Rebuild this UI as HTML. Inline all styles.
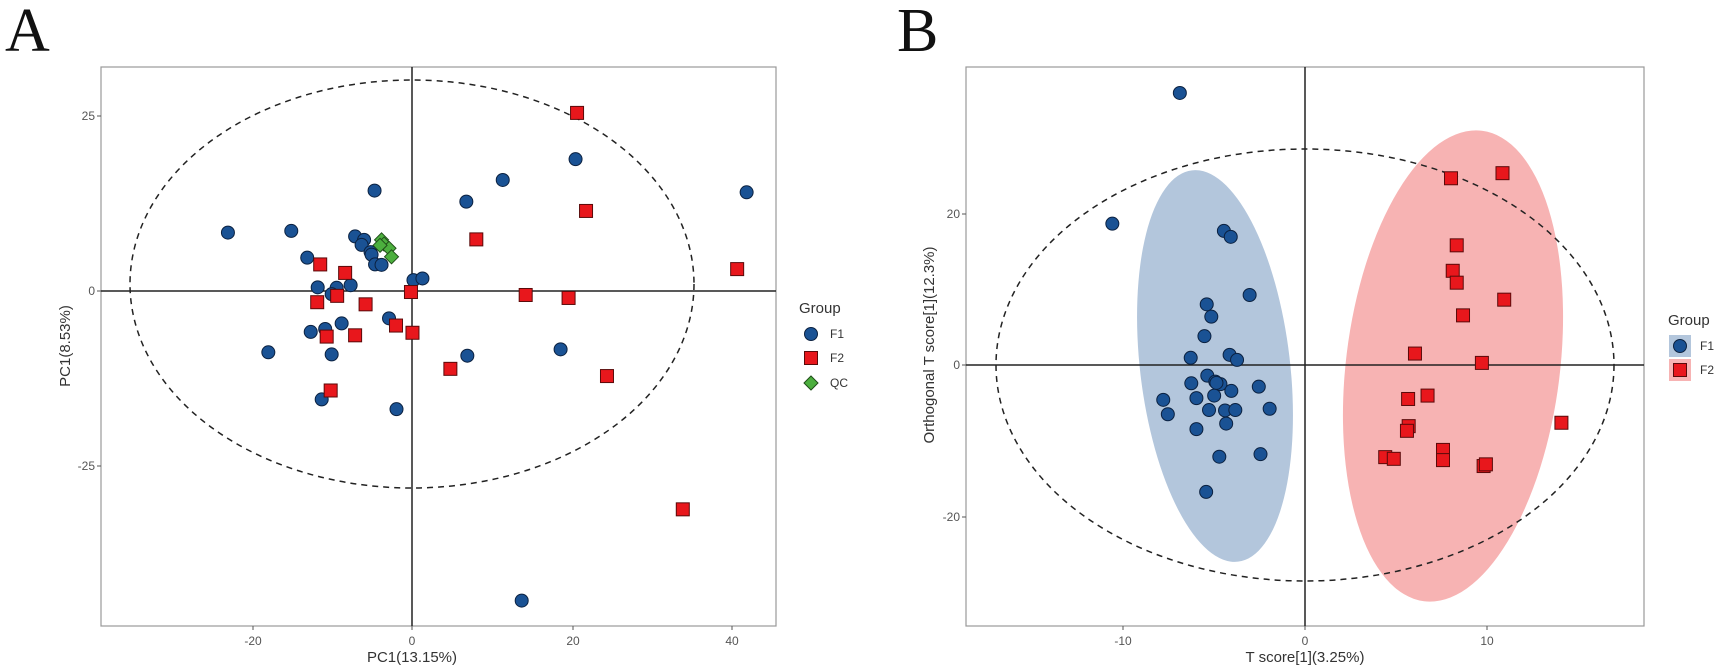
<!DOCTYPE html>
<html><head><meta charset="utf-8"><style>
body{margin:0;background:#fff}
text{font-family:"Liberation Sans",sans-serif}
</style></head><body>
<svg id="s" width="1717" height="665" xmlns="http://www.w3.org/2000/svg">
<text x="5" y="51" style="font-family:'Liberation Serif',serif" font-size="62" fill="#111">A</text>
<text x="897" y="51" style="font-family:'Liberation Serif',serif" font-size="62" fill="#111">B</text>
<!-- Panel A -->
<rect x="101" y="67" width="675" height="559" fill="#fff" stroke="#999" stroke-width="1.2"/>
<ellipse cx="412" cy="284" rx="282" ry="204" fill="none" stroke="#222" stroke-width="1.5" stroke-dasharray="6,5"/>
<line x1="412" y1="67" x2="412" y2="626" stroke="#222" stroke-width="1.5"/>
<line x1="101" y1="291" x2="776" y2="291" stroke="#222" stroke-width="1.5"/>
<g id="pa"></g>
<g font-size="12" fill="#555" text-anchor="middle">
<text x="253" y="645">-20</text><text x="412" y="645">0</text><text x="573" y="645">20</text><text x="732" y="645">40</text>
</g>
<g font-size="12" fill="#555" text-anchor="end">
<text x="95" y="120">25</text><text x="95" y="295">0</text><text x="95" y="470">-25</text>
</g>
<g stroke="#555"><line x1="253" y1="626" x2="253" y2="630"/><line x1="573" y1="626" x2="573" y2="630"/><line x1="732" y1="626" x2="732" y2="630"/><line x1="412" y1="626" x2="412" y2="630"/>
<line x1="97" y1="116" x2="101" y2="116"/><line x1="97" y1="291" x2="101" y2="291"/><line x1="97" y1="466" x2="101" y2="466"/></g>
<text x="412" y="662" font-size="15" fill="#333" text-anchor="middle">PC1(13.15%)</text>
<text transform="translate(70,346) rotate(-90)" font-size="15" fill="#333" text-anchor="middle">PC1(8.53%)</text>
<text x="799" y="313" font-size="15" fill="#333">Group</text>
<circle cx="811" cy="334" r="6.5" fill="#1a5294" stroke="#0b2140"/>
<rect x="804.5" y="351.5" width="13" height="13" fill="#e8171c" stroke="#5a0a0a"/>
<polygon points="811,376 818,383 811,390 804,383" fill="#4caf3e" stroke="#1f4d18"/>
<g font-size="12" fill="#333"><text x="830" y="338">F1</text><text x="830" y="362">F2</text><text x="830" y="387">QC</text></g>
<!-- Panel B -->
<rect x="966" y="67" width="678" height="559" fill="#fff" stroke="#999" stroke-width="1.2"/>
<ellipse cx="1215" cy="366" rx="75" ry="197" transform="rotate(-6.7 1215 366)" fill="#b3c6dc"/>
<ellipse cx="1453" cy="366" rx="107" ry="237" transform="rotate(7 1453 366)" fill="#f7b3b3"/>
<ellipse cx="1305" cy="365" rx="309" ry="216" fill="none" stroke="#222" stroke-width="1.5" stroke-dasharray="6,5"/>
<line x1="1305" y1="67" x2="1305" y2="626" stroke="#222" stroke-width="1.5"/>
<line x1="966" y1="365" x2="1644" y2="365" stroke="#222" stroke-width="1.5"/>
<g id="pb"></g>
<g font-size="12" fill="#555" text-anchor="middle">
<text x="1123" y="645">-10</text><text x="1305" y="645">0</text><text x="1487" y="645">10</text>
</g>
<g font-size="12" fill="#555" text-anchor="end">
<text x="960" y="218">20</text><text x="960" y="369">0</text><text x="960" y="521">-20</text>
</g>
<g stroke="#555"><line x1="1123" y1="626" x2="1123" y2="630"/><line x1="1305" y1="626" x2="1305" y2="630"/><line x1="1487" y1="626" x2="1487" y2="630"/>
<line x1="962" y1="214" x2="966" y2="214"/><line x1="962" y1="365" x2="966" y2="365"/><line x1="962" y1="517" x2="966" y2="517"/></g>
<text x="1305" y="662" font-size="15" fill="#333" text-anchor="middle">T score[1](3.25%)</text>
<text transform="translate(934,345) rotate(-90)" font-size="15" fill="#333" text-anchor="middle">Orthogonal T score[1](12.3%)</text>
<text x="1668" y="325" font-size="15" fill="#333">Group</text>
<rect x="1669" y="335" width="22" height="22" fill="#b3c6dc"/>
<circle cx="1680" cy="346" r="6.5" fill="#1a5294" stroke="#0b2140"/>
<rect x="1669" y="359" width="22" height="22" fill="#f7b3b3"/>
<rect x="1673.5" y="363.5" width="13" height="13" fill="#e8171c" stroke="#5a0a0a"/>
<g font-size="12" fill="#333"><text x="1700" y="350">F1</text><text x="1700" y="374">F2</text></g>
</svg>
<script>
var NS="http://www.w3.org/2000/svg";
function circ(g,x,y){var c=document.createElementNS(NS,"circle");c.setAttribute("cx",x);c.setAttribute("cy",y);c.setAttribute("r",6.5);c.setAttribute("fill","#1a5294");c.setAttribute("stroke","#0b2140");g.appendChild(c);}
function sq(g,x,y){var c=document.createElementNS(NS,"rect");c.setAttribute("x",x-6.5);c.setAttribute("y",y-6.5);c.setAttribute("width",13);c.setAttribute("height",13);c.setAttribute("fill","#e8171c");c.setAttribute("stroke","#5a0a0a");g.appendChild(c);}
function dia(g,x,y){var c=document.createElementNS(NS,"polygon");c.setAttribute("points",x+","+(y-7)+" "+(x+7)+","+y+" "+x+","+(y+7)+" "+(x-7)+","+y);c.setAttribute("fill","#4caf3e");c.setAttribute("stroke","#1f4d18");g.appendChild(c);}
var ga=document.getElementById("pa"),gb=document.getElementById("pb");
function A(p){return [p[0]/2.005,p[1]/2.356];}
function B(p){return [p[0]/1.748+820,p[1]/2.356];}
var ac=[[457,548],[584,544],[616,607],[538,830],[751,449],[712,557],[730,565],[725,577],[743,594],[745,600],[752,623],[765,624],[637,677],[675,678],[703,672],[665,693],[685,762],[623,782],[652,775],[665,835],[645,941],[780,750],[795,964],[829,660],[847,656],[935,475],[1008,424],[1154,375],[1497,453],[937,838],[1124,823],[1046,1415]];
var as=[[1157,266],[1175,497],[955,564],[1478,634],[642,623],[692,643],[636,712],[676,697],[733,717],[824,688],[1054,695],[1140,702],[794,767],[827,784],[712,790],[655,793],[663,920],[903,869],[1217,886],[1369,1200]];
var ad=[[765,565],[770,575],[780,585],[785,605],[762,578]];
ac.forEach(function(p){var q=A(p);circ(ga,q[0],q[1]);});
as.forEach(function(p){var q=A(p);sq(ga,q[0],q[1]);});
ad.forEach(function(p){var q=A(p);dia(ga,q[0],q[1]);});
var bc=[[629,219],[511,527],[706,544],[718,558],[751,695],[676,717],[684,746],[672,792],[716,836],[729,848],[648,843],[677,885],[691,899],[700,905],[649,903],[767,911],[600,942],[658,938],[689,932],[719,921],[608,976],[680,966],[708,967],[726,966],[786,963],[710,998],[658,1011],[698,1076],[770,1070],[675,1159],[693,902]];
var bs=[[1103,420],[1193,408],[1113,578],[1106,638],[1113,666],[1196,706],[1124,743],[1040,833],[1157,855],[1028,940],[1062,932],[1296,996],[1029,1004],[1026,1015],[988,1077],[1003,1081],[1089,1060],[1089,1084],[1160,1098],[1164,1094]];
bc.forEach(function(p){var q=B(p);circ(gb,q[0],q[1]);});
bs.forEach(function(p){var q=B(p);sq(gb,q[0],q[1]);});
</script>
</body></html>
